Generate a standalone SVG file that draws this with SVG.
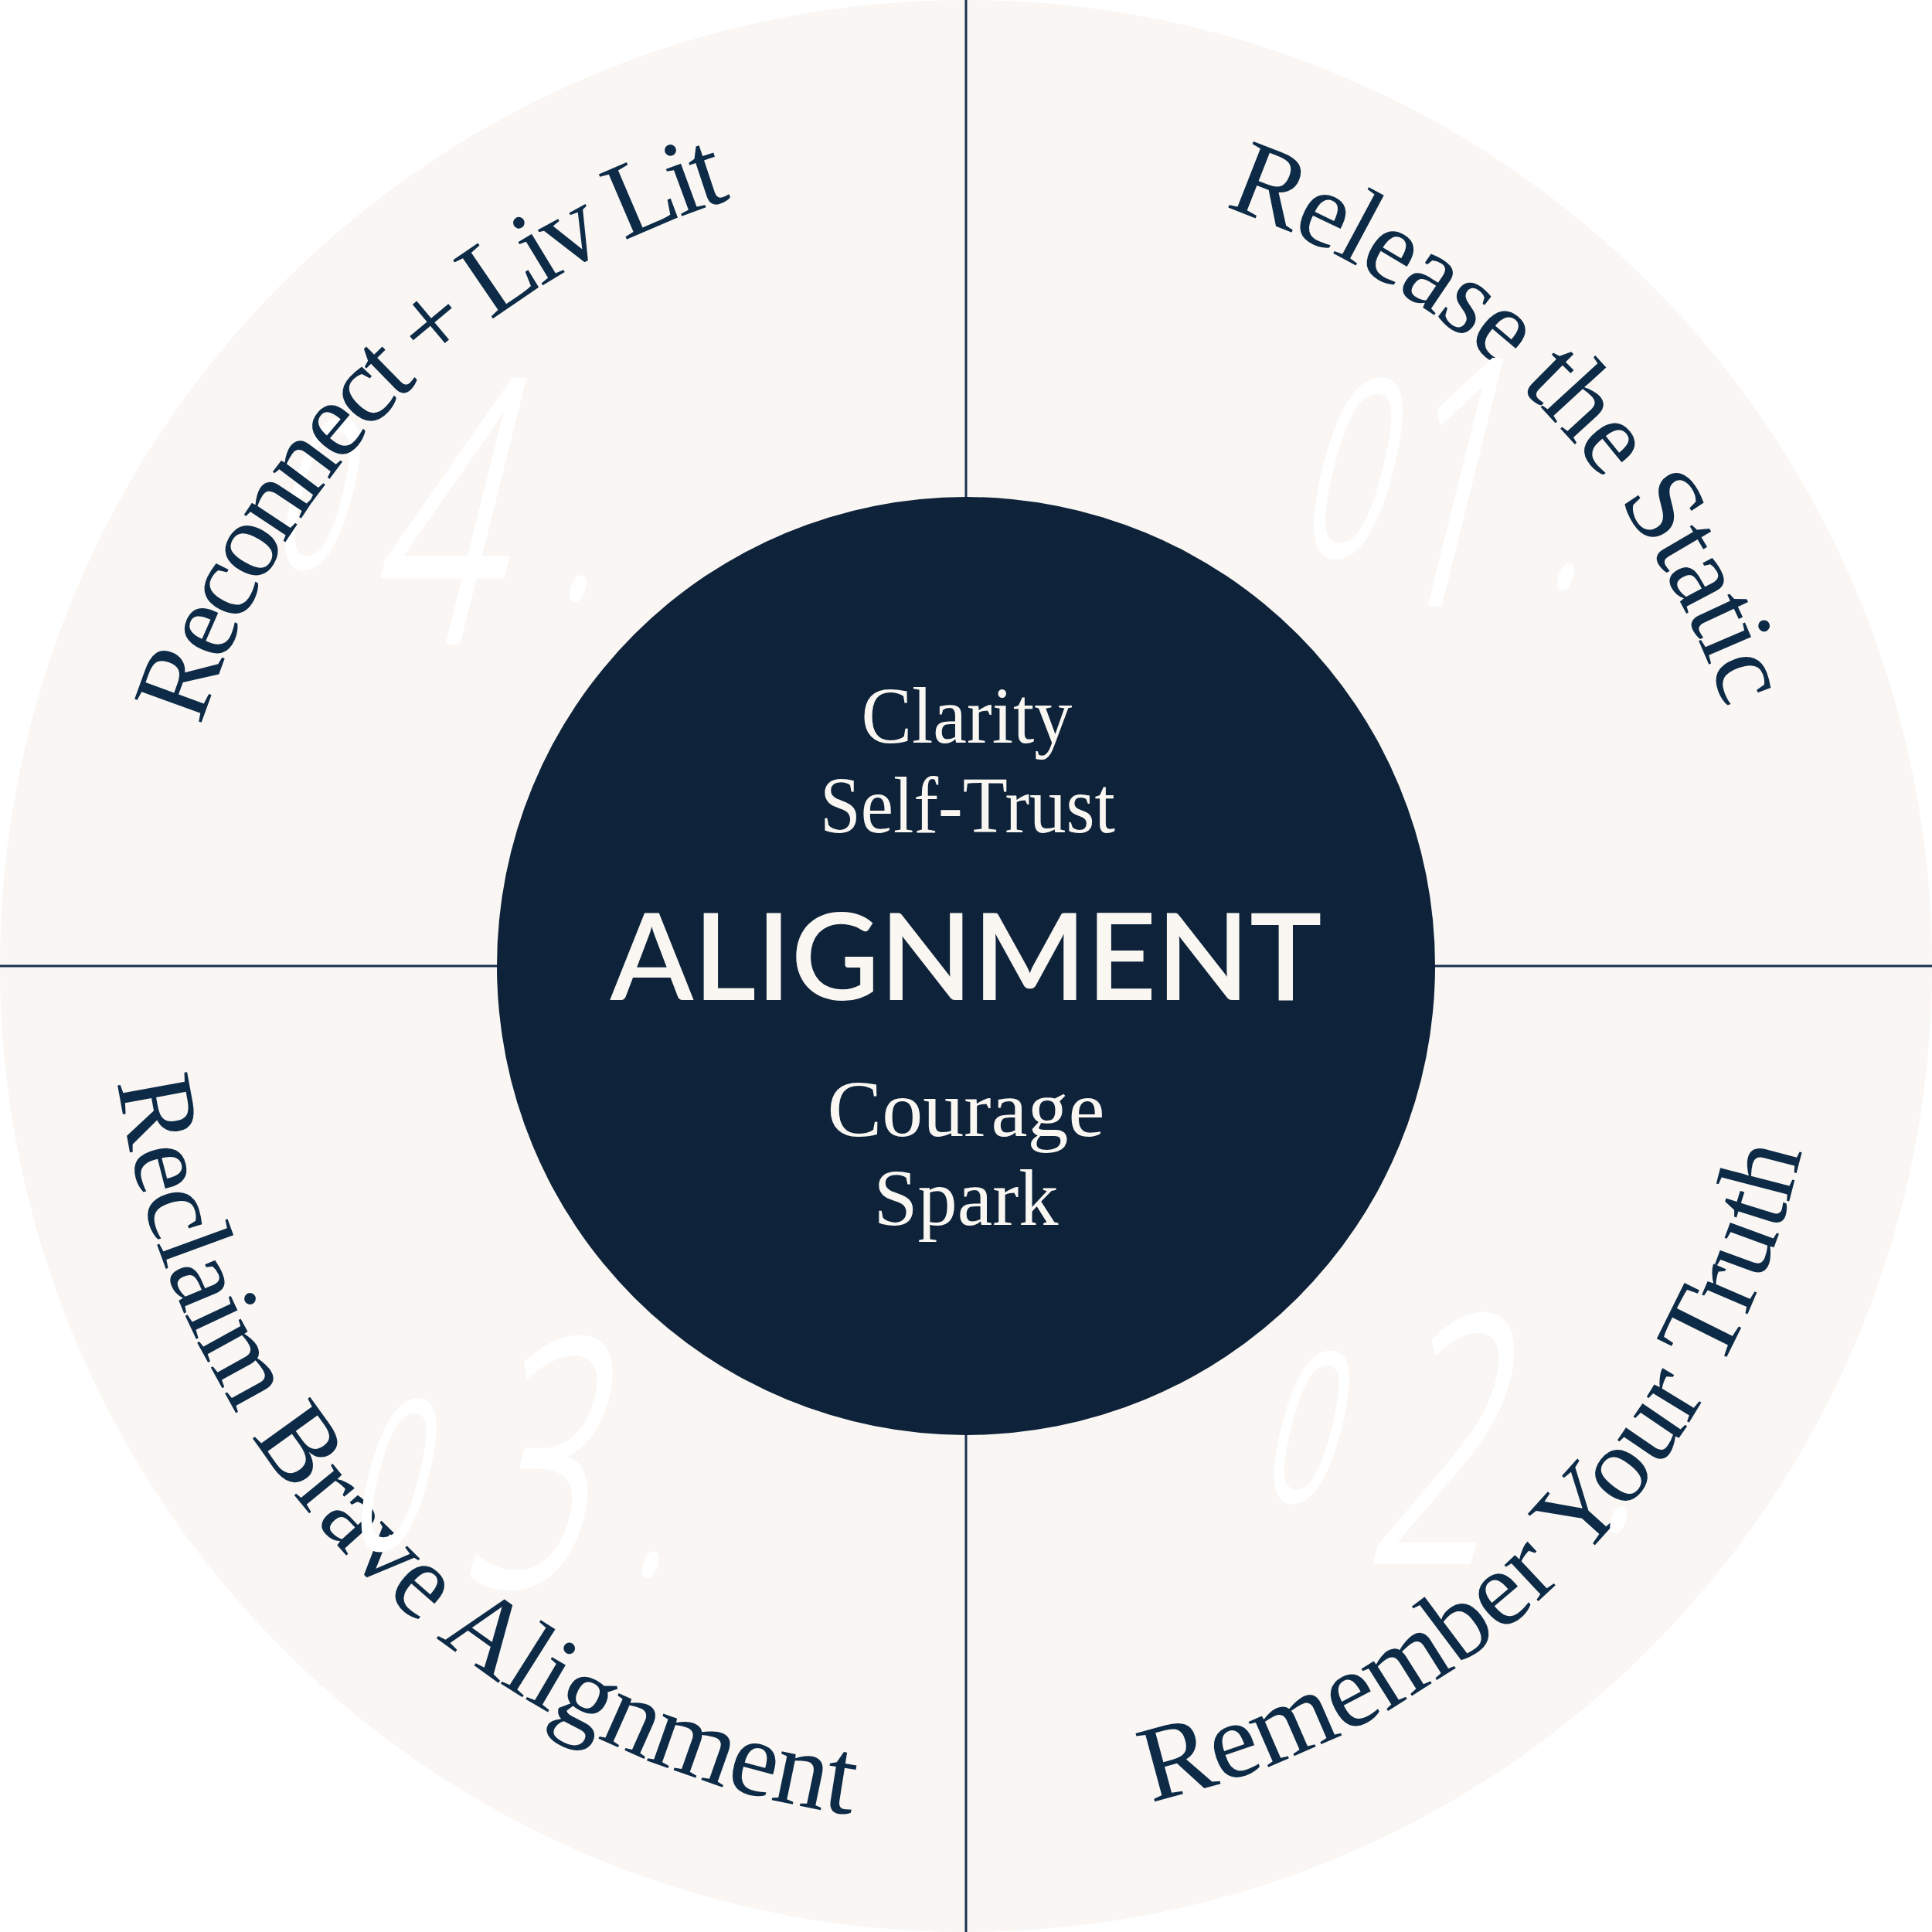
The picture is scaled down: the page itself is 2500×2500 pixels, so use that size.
<svg xmlns="http://www.w3.org/2000/svg" width="2500" height="2500" viewBox="0 0 2500 2500">
  <defs>
    <style>
      .arc { font-family: "Liberation Serif", "Times New Roman", serif; font-size: 140px; fill: #0d2b47; }
      .mid { font-family: "Liberation Serif", "Times New Roman", serif; font-size: 104px; fill: #faf7f3; text-anchor: middle; }
      .big { font-family: Lato, "Open Sans", "Liberation Sans", sans-serif; font-weight: 600; font-size: 156px; fill: #faf7f3; text-anchor: middle; }
      .num { font-family: "Open Sans", "Liberation Sans", sans-serif; font-weight: 300; fill: #ffffff; stroke: #ffffff; stroke-width: 8; stroke-linejoin: round; }
      .rule { stroke: #17314e; stroke-width: 3; fill: none; }
    </style>
    <path id="pTR" d="M 512.5 512.5 A 1043 1043 0 0 1 1987.5 1987.5"/>
    <path id="pTL" d="M 512.5 1987.5 A 1043 1043 0 0 1 1987.5 512.5"/>
    <path id="pBR" d="M 461.6 2038.4 A 1115 1115 0 0 0 2038.4 461.6"/>
    <path id="pBL" d="M 461.6 461.6 A 1115 1115 0 0 0 2038.4 2038.4"/>
  </defs>

  <g id="wheel">
    <circle cx="1250" cy="1250" r="1250" fill="#f9f6f3"/>
  </g>

  <g id="connectors">
    <line class="rule" x1="1250" y1="0" x2="1250" y2="2500"/>
    <line class="rule" x1="0" y1="1250" x2="2500" y2="1250"/>
  </g>

  <g id="num-04">
    <text class="num" transform="translate(348 732) skewX(-14) scale(0.62 1)"><tspan x="0" y="0" font-size="260">0</tspan><tspan x="232" y="98" font-size="470">4</tspan><tspan x="621" y="40" font-size="300">.</tspan></text>
  </g>

  <g id="step-01">
    <text class="arc" letter-spacing="-2.6"><textPath href="#pTR" startOffset="50%" text-anchor="middle">Release the Static</textPath></text>
  </g>
  <g id="step-02">
    <text class="arc"><textPath href="#pBR" startOffset="50%" text-anchor="middle">Remember Your Truth</textPath></text>
  </g>
  <g id="step-03">
    <text class="arc" letter-spacing="-1"><textPath href="#pBL" startOffset="50%" text-anchor="middle">Reclaim Brave Alignment</textPath></text>
  </g>
  <g id="step-04">
    <text class="arc" letter-spacing="-7"><textPath href="#pTL" startOffset="50%" text-anchor="middle">Reconnect + Liv Lit</textPath></text>
  </g>

  <g id="num-01">
    <text class="num" transform="translate(1675 717) skewX(-14) scale(0.62 1)"><tspan x="0" y="0" font-size="310">0</tspan><tspan x="184" y="64" font-size="440">1</tspan><tspan x="542" y="40" font-size="300">.</tspan></text>
  </g>
  <g id="num-02">
    <text class="num" transform="translate(1628 1940) skewX(-14) scale(0.62 1)"><tspan x="0" y="0" font-size="260">0</tspan><tspan x="253" y="80" font-size="440">2</tspan><tspan x="727" y="37" font-size="300">.</tspan></text>
  </g>
  <g id="num-03">
    <text class="num" transform="translate(447 2002) skewX(-14) scale(0.62 1)"><tspan x="0" y="0" font-size="260">0</tspan><tspan x="258" y="48" font-size="440">3</tspan><tspan x="610" y="33" font-size="300">.</tspan></text>
  </g>

  <g id="center">
    <circle cx="1250" cy="1250" r="607" fill="#0e2339"/>
    <text class="mid" x="1251" y="961" textLength="273" lengthAdjust="spacingAndGlyphs">Clarity</text>
    <text class="mid" x="1252" y="1077" textLength="382" lengthAdjust="spacingAndGlyphs">Self-Trust</text>
    <text class="big" x="1250" y="1294" textLength="921" lengthAdjust="spacingAndGlyphs">ALIGNMENT</text>
    <text class="mid" x="1250" y="1470" textLength="359" lengthAdjust="spacingAndGlyphs">Courage</text>
    <text class="mid" x="1250" y="1585" textLength="239" lengthAdjust="spacingAndGlyphs">Spark</text>
  </g>
</svg>
